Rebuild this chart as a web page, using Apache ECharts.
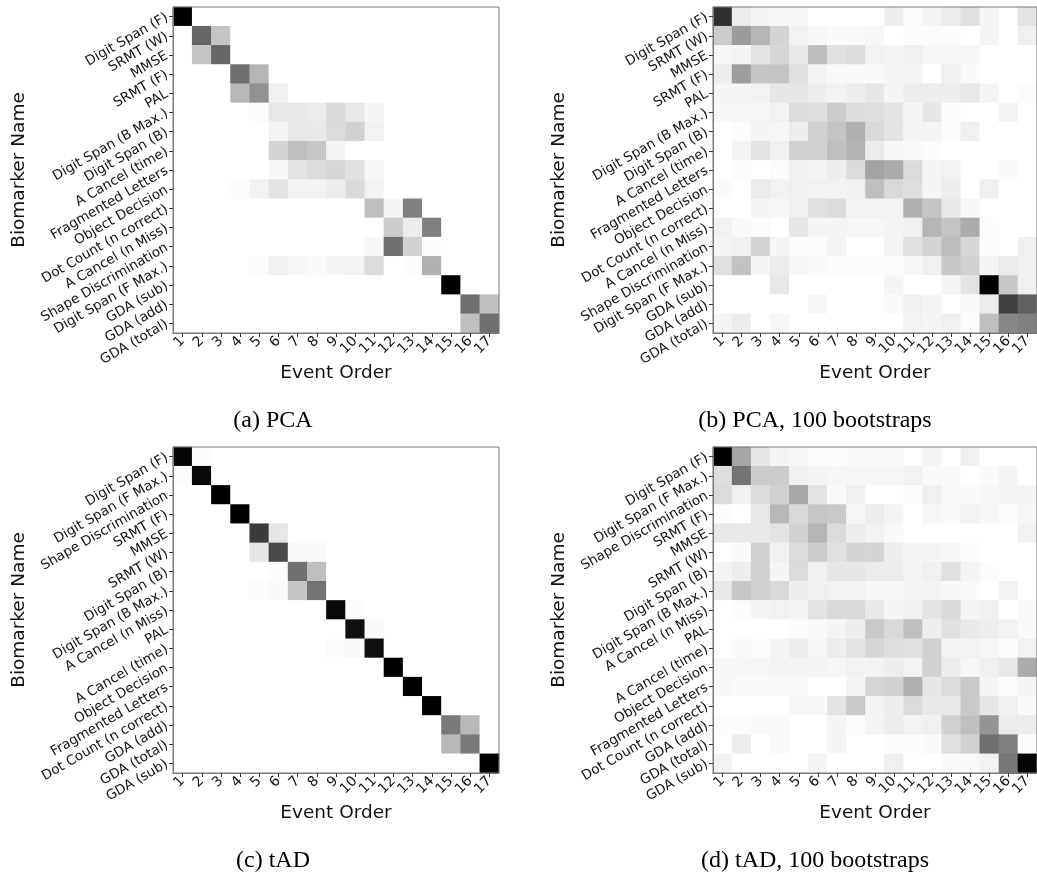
<!DOCTYPE html>
<html>
<head>
<meta charset="utf-8">
<script src="https://cdn.jsdelivr.net/npm/echarts@6/dist/echarts.min.js"></script>
<style>
html,body{margin:0;padding:0;background:#fff;}
#chart{width:1037px;height:876px;}
</style>
</head>
<body>
<div id="chart"></div>
<script>
// Event order tick labels
const events = ['1','2','3','4','5','6','7','8','9','10','11','12','13','14','15','16','17'];

// Row labels (biomarker names), top to bottom
const rowsPCA = ['Digit Span (F)','SRMT (W)','MMSE','SRMT (F)','PAL','Digit Span (B Max.)','Digit Span (B)','A Cancel (time)','Fragmented Letters','Object Decision','Dot Count (n correct)','A Cancel (n Miss)','Shape Discrimination','Digit Span (F Max.)','GDA (sub)','GDA (add)','GDA (total)'];
const rowsTAD = ['Digit Span (F)','Digit Span (F Max.)','Shape Discrimination','SRMT (F)','MMSE','SRMT (W)','Digit Span (B)','Digit Span (B Max.)','A Cancel (n Miss)','PAL','A Cancel (time)','Object Decision','Fragmented Letters','Dot Count (n correct)','GDA (add)','GDA (total)','GDA (sub)'];

// Captions
const captions = ['(a) PCA','(b) PCA, 100 bootstraps','(c) tAD','(d) tAD, 100 bootstraps'];

// (a) PCA positional variance (0 = white, 1 = black)
const pca = [
[1,0,0,0,0,0,0,0,0,0,0,0,0,0,0,0,0],
[0,0.6,0.23,0,0,0,0,0,0,0,0,0,0,0,0,0,0],
[0,0.23,0.6,0,0,0,0,0,0,0,0,0,0,0,0,0,0],
[0,0,0,0.56,0.29,0,0,0,0,0,0,0,0,0,0,0,0],
[0,0,0,0.28,0.43,0.06,0,0,0,0,0,0,0,0,0,0,0],
[0,0,0,0,0.01,0.09,0.09,0.08,0.15,0.09,0.04,0,0,0,0,0,0],
[0,0,0,0,0,0.05,0.09,0.09,0.14,0.18,0.05,0,0,0,0,0,0],
[0,0,0,0,0,0.17,0.25,0.22,0.04,0,0,0,0,0,0,0,0],
[0,0,0,0,0,0.03,0.11,0.14,0.16,0.12,0.03,0,0,0,0,0,0],
[0,0,0,0.01,0.05,0.11,0.05,0.05,0.07,0.15,0.05,0,0,0,0,0,0],
[0,0,0,0,0,0,0,0,0,0,0.25,0.04,0.5,0,0,0,0],
[0,0,0,0,0,0,0,0,0,0,0,0.2,0.07,0.5,0,0,0],
[0,0,0,0,0,0,0,0,0,0,0.03,0.56,0.18,0.01,0,0,0],
[0,0,0,0,0.01,0.06,0.03,0.02,0.04,0.05,0.14,0,0.01,0.31,0,0,0],
[0,0,0,0,0,0,0,0,0,0,0,0,0,0,1,0,0],
[0,0,0,0,0,0,0,0,0,0,0,0,0,0,0,0.56,0.25],
[0,0,0,0,0,0,0,0,0,0,0,0,0,0,0,0.25,0.56]
];

// (b) PCA, 100 bootstraps
const pcaBoot = [
[0.81,0.08,0.04,0.03,0.03,0,0,0,0,0.07,0.01,0.04,0.07,0.12,0.04,0,0.11],
[0.2,0.39,0.29,0.17,0.05,0.03,0.02,0.02,0.03,0,0.01,0.01,0.01,0,0.04,0,0.06],
[0.03,0.04,0.11,0.16,0.09,0.26,0.12,0.14,0.05,0.04,0.06,0.03,0.03,0.03,0,0,0],
[0.07,0.38,0.23,0.23,0.12,0.04,0.02,0.02,0.02,0.04,0.04,0,0.06,0.02,0,0,0],
[0.04,0.04,0.05,0.1,0.1,0.07,0.05,0.07,0.1,0.04,0.07,0.07,0.07,0.09,0.04,0,0.01],
[0.03,0.03,0.03,0.05,0.14,0.13,0.2,0.14,0.13,0.11,0.04,0.1,0.01,0,0,0.05,0],
[0,0.01,0.04,0.03,0.07,0.18,0.23,0.31,0.15,0.11,0.04,0.04,0.01,0.06,0,0,0],
[0,0.04,0.11,0.06,0.18,0.18,0.25,0.3,0.08,0.03,0.02,0.01,0,0,0,0,0],
[0,0.01,0,0.01,0.06,0.04,0.07,0.14,0.36,0.33,0.14,0.04,0.05,0,0,0.02,0],
[0.02,0,0.08,0.05,0.06,0.05,0.05,0.06,0.25,0.15,0.13,0.04,0.07,0,0.06,0,0],
[0,0,0.04,0.03,0.06,0.12,0.14,0.05,0.05,0.05,0.31,0.23,0.09,0.03,0,0,0],
[0.05,0.02,0.01,0,0.1,0.04,0.04,0.03,0.03,0.04,0.06,0.29,0.23,0.33,0.01,0,0],
[0.04,0.06,0.17,0.04,0.01,0.01,0.04,0,0,0.04,0.12,0.17,0.26,0.16,0.01,0,0.06],
[0.12,0.24,0.04,0.08,0.03,0.02,0.01,0.01,0.01,0.01,0.03,0.06,0.22,0.18,0.04,0.08,0.06],
[0,0,0,0.09,0,0,0,0,0,0.04,0,0,0.04,0.11,1,0.22,0.06],
[0,0,0,0,0,0.03,0,0,0,0.02,0.06,0.04,0,0.02,0.08,0.75,0.62],
[0.04,0.07,0,0.03,0,0,0,0,0,0,0.05,0.04,0.06,0.01,0.25,0.47,0.5]
];

// (c) tAD
const tad = [
[0.98,0.01,0,0,0,0,0,0,0,0,0,0,0,0,0,0,0],
[0.01,0.97,0,0,0,0,0,0,0,0,0,0,0,0,0,0,0],
[0,0,1,0,0,0,0,0,0,0,0,0,0,0,0,0,0],
[0,0,0,1,0,0,0,0,0,0,0,0,0,0,0,0,0],
[0,0,0,0,0.77,0.1,0,0,0,0,0,0,0,0,0,0,0],
[0,0,0,0,0.1,0.71,0.02,0.02,0,0,0,0,0,0,0,0,0],
[0,0,0,0,0,0.01,0.56,0.25,0,0,0,0,0,0,0,0,0],
[0,0,0,0,0.01,0.02,0.23,0.55,0,0,0,0,0,0,0,0,0],
[0,0,0,0,0,0,0,0,0.97,0.01,0,0,0,0,0,0,0],
[0,0,0,0,0,0,0,0,0,0.94,0.02,0,0,0,0,0,0],
[0,0,0,0,0,0,0,0,0.01,0.02,0.94,0,0,0,0,0,0],
[0,0,0,0,0,0,0,0,0,0,0,1,0,0,0,0,0],
[0,0,0,0,0,0,0,0,0,0,0,0,1,0,0,0,0],
[0,0,0,0,0,0,0,0,0,0,0,0,0,1,0,0,0],
[0,0,0,0,0,0,0,0,0,0,0,0,0,0,0.52,0.28,0],
[0,0,0,0,0,0,0,0,0,0,0,0,0,0,0.28,0.52,0],
[0,0,0,0,0,0,0,0,0,0,0,0,0,0,0,0,1]
];

// (d) tAD, 100 bootstraps
const tadBoot = [
[1,0.35,0.1,0.04,0.03,0.01,0.01,0.02,0.02,0.02,0,0.04,0,0.06,0,0,0],
[0.13,0.55,0.2,0.2,0.06,0.04,0.03,0.03,0.03,0.03,0.05,0.02,0.02,0,0.02,0.04,0],
[0.14,0.06,0.14,0.18,0.34,0.11,0.02,0.06,0,0,0.01,0.06,0.02,0.02,0.03,0.04,0.04],
[0.01,0,0.09,0.28,0.15,0.22,0.21,0.03,0.07,0.04,0,0.03,0.02,0.05,0.03,0.01,0.03],
[0.09,0.09,0.09,0.11,0.18,0.29,0.14,0.07,0.05,0.02,0,0,0,0,0,0,0.05],
[0,0.02,0.18,0.06,0.14,0.2,0.12,0.17,0.17,0.07,0.04,0.04,0.03,0.01,0,0,0],
[0.04,0.07,0.18,0.04,0.14,0.06,0.1,0.1,0.08,0.08,0.04,0.06,0.12,0.04,0.01,0,0],
[0.09,0.22,0.18,0.15,0.07,0.06,0.05,0.05,0.03,0.03,0.04,0.04,0.03,0.02,0,0.05,0],
[0,0.01,0.04,0.05,0.04,0.11,0.15,0.15,0.09,0.04,0.06,0.11,0.15,0.04,0.06,0,0.02],
[0,0,0,0,0.01,0.02,0.04,0.07,0.21,0.15,0.25,0.07,0.12,0.09,0.07,0.05,0.02],
[0,0.02,0.01,0.04,0.07,0.03,0.07,0.11,0.16,0.13,0.12,0.18,0.04,0.05,0.03,0.01,0.05],
[0.03,0.03,0.03,0.04,0.04,0.04,0.03,0.05,0.05,0.07,0.05,0.18,0.07,0.03,0.06,0.09,0.33],
[0.03,0.02,0.02,0.02,0.02,0,0,0.04,0.16,0.18,0.31,0.1,0.14,0.21,0.04,0.01,0.04],
[0,0,0,0,0.03,0.03,0.11,0.21,0.04,0.07,0.14,0.09,0.09,0.21,0.1,0.06,0.02],
[0.01,0.01,0.02,0.02,0,0,0.04,0.01,0.04,0.07,0.05,0.06,0.18,0.25,0.42,0.08,0.07],
[0,0.07,0,0.02,0,0,0.04,0,0,0.01,0.01,0.02,0.12,0.18,0.56,0.5,0.01],
[0.05,0,0,0,0,0.04,0,0,0,0.06,0,0,0.02,0.02,0.05,0.53,0.98]
];

const matrices = [pca, pcaBoot, tad, tadBoot];
const rowLabels = [rowsPCA, rowsPCA, rowsTAD, rowsTAD];

// Layout (positions only)
const panels = [
  {left:173, top:7},
  {left:713, top:7},
  {left:173, top:447},
  {left:713, top:447}
];
const captionPos = [[273,421],[815,421],[273,861],[815,861]];
const SIZE = 326;
const FONT = 'DejaVu Sans';

function toData(m){
  const out = [];
  for (let r = 0; r < m.length; r++)
    for (let c = 0; c < m[r].length; c++)
      out.push([c, r, m[r][c]]);
  return out;
}

const grids = [], xAxes = [], yAxes = [], series = [];
panels.forEach((p, i) => {
  grids.push({left:p.left, top:p.top, width:SIZE, height:SIZE, show:true,
    borderColor:'#7a7a7a', borderWidth:1, backgroundColor:'transparent', z:5});
  xAxes.push({type:'category', gridIndex:i, data:events, z:5,
    axisLine:{show:true, lineStyle:{color:'#7a7a7a', width:1}},
    axisTick:{show:true, alignWithLabel:true, length:4, lineStyle:{color:'#333'}},
    axisLabel:{interval:0, rotate:45, margin:6, fontFamily:FONT, fontSize:14, color:'#111'},
    splitLine:{show:false},
    name:'Event Order', nameLocation:'middle', nameGap:31,
    nameTextStyle:{fontFamily:FONT, fontSize:18.5, color:'#111'}});
  yAxes.push({type:'category', gridIndex:i, data:rowLabels[i], inverse:true, z:5,
    axisLine:{show:true, lineStyle:{color:'#7a7a7a', width:1}},
    axisTick:{show:true, alignWithLabel:true, length:4, lineStyle:{color:'#333'}},
    axisLabel:{interval:0, rotate:30, margin:6, fontFamily:FONT, fontSize:13.5, color:'#111'},
    splitLine:{show:false},
    name:'Biomarker Name', nameLocation:'middle', nameGap:144,
    nameTextStyle:{fontFamily:FONT, fontSize:18.5, color:'#111'}});
  series.push({type:'heatmap', xAxisIndex:i, yAxisIndex:i, data:toData(matrices[i]),
    itemStyle:{borderWidth:0}, emphasis:{disabled:true}, progressive:0, z:2});
});

const chart = echarts.init(document.getElementById('chart'), null, {renderer:'canvas'});
chart.setOption({
  animation:false,
  backgroundColor:'#ffffff',
  grid:grids, xAxis:xAxes, yAxis:yAxes, series:series,
  visualMap:{show:false, min:0, max:1, dimension:2, seriesIndex:[0,1,2,3],
    inRange:{color:['#ffffff','#000000']}},
  graphic: captions.map((t, i) => ({type:'text', x:captionPos[i][0], y:captionPos[i][1],
    style:{text:t, font:'24px "Liberation Serif"', fill:'#000', textAlign:'center',
      textVerticalAlign:'middle', verticalAlign:'middle'}}))
});
</script>
</body>
</html>
